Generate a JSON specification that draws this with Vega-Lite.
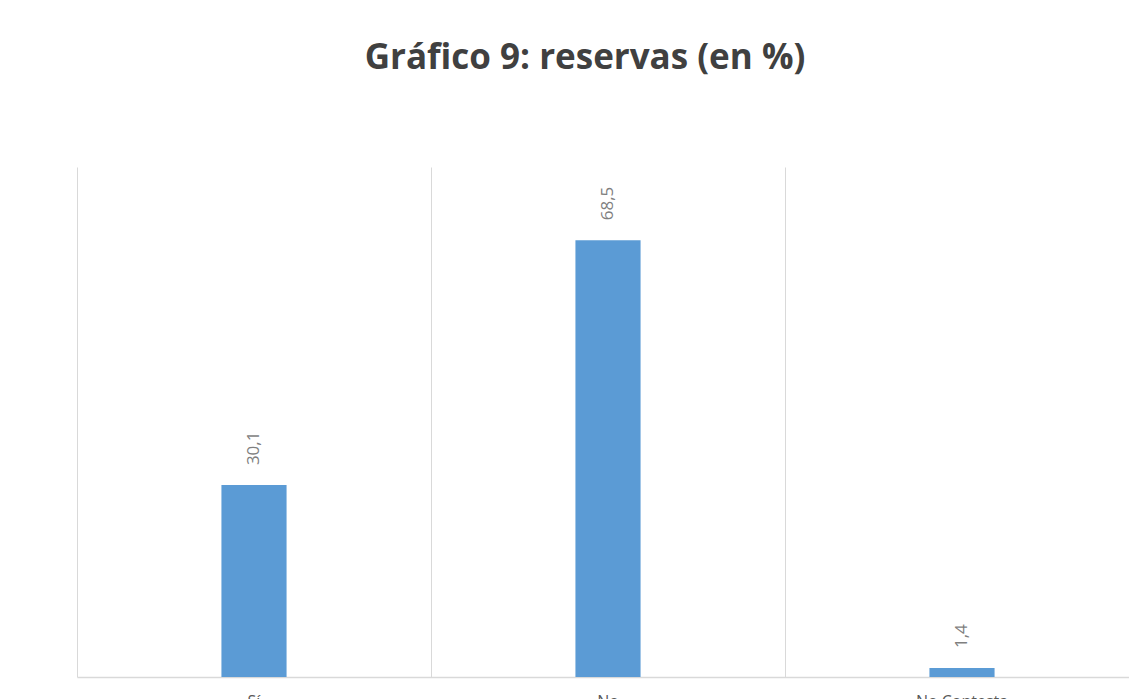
{
  "$schema": "https://vega.github.io/schema/vega-lite/v6.json",
  "width": 1062,
  "height": 510,
  "autosize": {"type": "none"},
  "padding": {"left": 77, "top": 167, "right": 0, "bottom": 22},
  "background": "white",
  "config": {"view": {"stroke": null}, "font": "Open Sans"},
  "title": {
    "text": "Gráfico 9: reservas (en %)",
    "fontSize": 35,
    "fontWeight": "bold",
    "font": "Open Sans",
    "color": "#404040",
    "anchor": "middle",
    "frame": "group",
    "dx": -23,
    "offset": 91
  },
  "data": {
    "values": [
      {"cat": "Sí", "value": 30.1, "label": "30,1"},
      {"cat": "No", "value": 68.5, "label": "68,5"},
      {"cat": "No Contesta", "value": 1.4, "label": "1,4"}
    ]
  },
  "encoding": {
    "x": {
      "field": "cat",
      "type": "nominal",
      "sort": null,
      "scale": {"paddingInner": 0, "paddingOuter": 0},
      "axis": {
        "title": null,
        "labelAngle": 0,
        "labelFontSize": 16,
        "labelColor": "#595959",
        "labelPadding": 16,
        "ticks": false,
        "grid": true,
        "gridColor": "#d9d9d9",
        "gridWidth": 1,
        "bandPosition": 0,
        "domainColor": "#d9d9d9",
        "domainWidth": 1.5
      }
    },
    "y": {
      "field": "value",
      "type": "quantitative",
      "scale": {"domain": [0, 80], "nice": false},
      "axis": null
    }
  },
  "layer": [
    {"mark": {"type": "bar", "color": "#5b9bd5", "width": {"band": 0.184}}},
    {
      "mark": {
        "type": "text",
        "angle": 270,
        "align": "left",
        "baseline": "middle",
        "dx": 20,
        "fontSize": 17,
        "color": "#7f7f7f",
        "font": "Open Sans"
      },
      "encoding": {"text": {"field": "label"}}
    }
  ]
}
